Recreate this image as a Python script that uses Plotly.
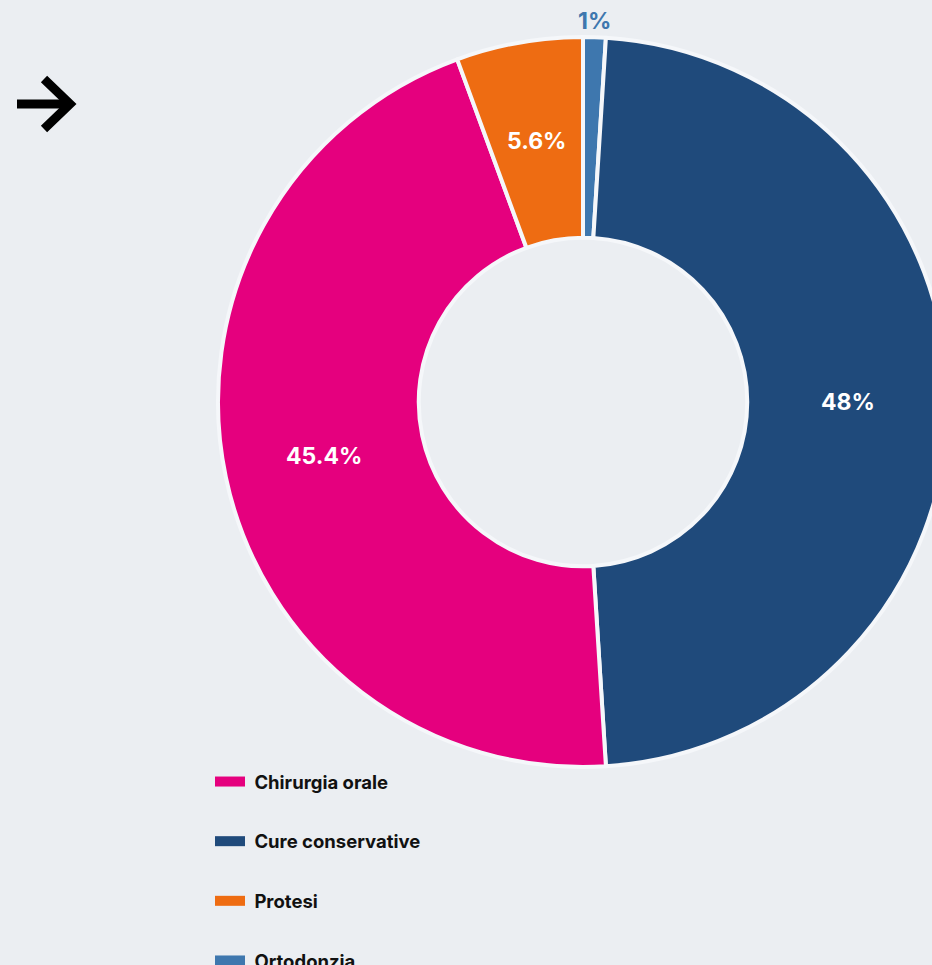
import math
import plotly.graph_objects as go

# Data
legend_labels = ["Chirurgia orale", "Cure conservative", "Protesi", "Ortodonzia"]
legend_colors = ["#E5007E", "#1F4A7B", "#EE6C12", "#3E77AE"]

# Slices in drawing order (clockwise from 12 o'clock)
pie_labels = ["Ortodonzia", "Cure conservative", "Chirurgia orale", "Protesi"]
pie_values = [1.0, 48.0, 45.4, 5.6]
pie_colors = ["#3E77AE", "#1F4A7B", "#E5007E", "#EE6C12"]
pie_label_inside = [False, True, True, True]

BG = "#EBEEF2"
W, H = 960, 1000
HOLE = 0.45

# pie domain (paper fractions)
dom_x = [218 / W, 948 / W]
dom_y = [1 - 767 / H, 1 - 37 / H]

fig = go.Figure()

fig.add_trace(go.Pie(
    labels=pie_labels,
    values=pie_values,
    sort=False,
    direction="clockwise",
    rotation=0,
    hole=HOLE,
    marker=dict(colors=pie_colors, line=dict(color="#F5F7FA", width=4)),
    textinfo="none",
    domain=dict(x=dom_x, y=dom_y),
    showlegend=False,
))

# Percentage labels placed at each slice's mid-angle, derived from the values
cx = (dom_x[0] + dom_x[1]) / 2 * W
cy = (1 - (dom_y[0] + dom_y[1]) / 2) * H
r_out = min((dom_x[1] - dom_x[0]) * W, (dom_y[1] - dom_y[0]) * H) / 2
r_in = r_out * HOLE
total = sum(pie_values)
cum = 0.0
for lab, v, col, inside in zip(pie_labels, pie_values, pie_colors, pie_label_inside):
    mid = (cum + v / 2) / total * 2 * math.pi
    cum += v
    r = (r_out + r_in) / 2 if inside else r_out + 16
    x = cx + r * math.sin(mid)
    y = cy - r * math.cos(mid)
    pct = f"{v / total * 100:.3g}%"
    fig.add_annotation(
        x=x / W, y=1 - y / H, xref="paper", yref="paper", text=pct,
        showarrow=False, xanchor="center", yanchor="middle",
        font=dict(family="Inter", size=23, weight=700,
                  color="white" if inside else col),
    )

for lab, col in zip(legend_labels, legend_colors):
    fig.add_trace(go.Scatter(
        x=[None], y=[None], mode="lines", name="\u00a0" + lab, legendgroup=lab,
        line=dict(color=col, width=10), hoverinfo="skip",
    ))

# Arrow icon (top-left)
def px(x, y):
    return x / W, 1 - y / H

ax0, ay0 = px(17, 104)
ax1, ay1 = px(68, 104)
fig.add_shape(type="line", xref="paper", yref="paper", x0=ax0, y0=ay0, x1=ax1, y1=ay1,
              line=dict(color="black", width=9))
p1 = px(44, 79); p2 = px(70, 104); p3 = px(44, 129)
fig.add_shape(type="path", xref="paper", yref="paper",
              path=f"M{p1[0]},{p1[1]} L{p2[0]},{p2[1]} L{p3[0]},{p3[1]}",
              line=dict(color="black", width=9))

fig.update_layout(
    width=W, height=H,
    margin=dict(l=0, r=0, t=0, b=0),
    paper_bgcolor=BG, plot_bgcolor=BG,
    xaxis=dict(visible=False), yaxis=dict(visible=False),
    showlegend=True,
    legend=dict(
        x=210 / W, y=1 - 763 / H, xanchor="left", yanchor="top",
        font=dict(family="Inter", size=18.5, color="#111111", weight=700),
        tracegroupgap=32.6, traceorder="grouped", itemwidth=30,
        bgcolor="rgba(0,0,0,0)",
    ),
    font=dict(family="Inter"),
)

fig.write_html("out.html")
